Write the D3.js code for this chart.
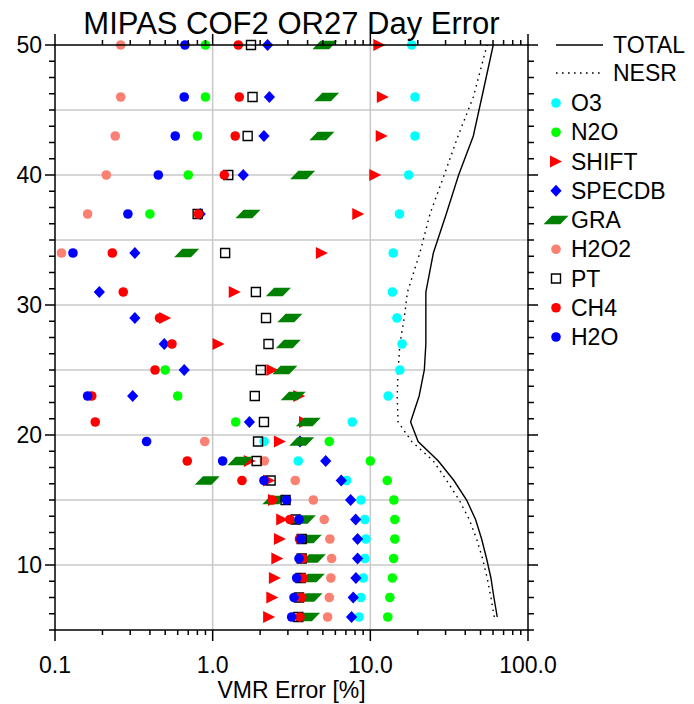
<!DOCTYPE html>
<html>
<head>
<meta charset="utf-8">
<script src="https://cdn.jsdelivr.net/npm/d3@7"></script>
<style>
html,body{margin:0;padding:0;background:#fff;}
svg{display:block;font-family:"Liberation Sans",Arial,Helvetica,sans-serif;}
</style>
</head>
<body>
<svg id="chart" width="694" height="704"></svg>
<script>
// ---------------- data ----------------
const altitudes = [6, 7.5, 9, 10.5, 12, 13.5, 15, 16.5, 18, 19.5, 21, 23, 25, 27, 29, 31, 34, 37, 40, 43, 46, 50];

const totalErr = [63.8, 60.8, 58.2, 54.6, 50.8, 46.5, 40.8, 33.9, 27.0, 20.1, 18.0, 20.4, 22.0, 22.5, 22.5, 22.5, 25.1, 30.3, 36.3, 45.0, 51.0, 60.2];
const nesrErr  = [61.1, 58.2, 55.1, 51.5, 47.2, 42.4, 36.6, 30.5, 25.1, 18.3, 15.0, 14.8, 15.0, 15.4, 16.4, 17.2, 20.6, 23.9, 29.4, 36.0, 45.0, 55.0];

const o3     = [8.47, 8.72, 9.02, 9.24, 9.38, 9.24, 8.72, 7.07, 3.49, 2.12, 7.68, 12.98, 15.4, 15.9, 14.75, 13.8, 13.97, 15.3, 17.5, 19.2, 19.2, 18.3];
const n2o    = [12.9, 13.3, 13.8, 14.05, 14.3, 14.3, 14.1, 12.8, 10.0, 5.49, 1.40, 0.60, 0.50, null, null, null, null, 0.40, 0.70, 0.80, 0.90, 0.90];
const shift  = [2.28, 2.39, 2.48, 2.57, 2.67, 2.76, 2.45, 2.28, 1.72, 2.67, 3.85, 3.54, 2.39, 1.09, 0.50, 1.38, 4.93, 8.38, 10.74, 11.8, 12.0, 11.4];
const specdb = [7.6, 7.79, 8.1, 8.3, 8.3, 8.07, 7.5, 6.54, 5.21, 3.58, 1.71, 0.311, 0.66, 0.493, 0.321, 0.191, 0.321, 0.834, 1.563, 2.115, 2.29, 2.23];
const gra    = [4.0, 4.14, 4.28, 4.35, 4.1, 3.76, 2.48, 0.924, 1.49, 3.67, 4.04, 3.24, 2.87, 3.02, 3.09, 2.61, 0.684, 1.674, 3.72, 4.93, 5.28, 5.15];
const h2o2   = [5.36, 5.49, 5.62, 5.68, 5.54, 5.1, 4.35, 3.34, 2.125, 0.89, null, null, null, null, null, null, 0.110, 0.161, 0.2115, 0.241, 0.261, 0.261];
const pt     = [3.49, 3.53, 3.61, 3.67, 3.67, 3.36, 2.90, 2.33, 1.90, 1.94, 2.115, 1.85, 2.02, 2.26, 2.18, 1.88, 1.20, 0.803, 1.256, 1.667, 1.79, 1.75];
const ch4    = [3.58, 3.67, 3.76, 3.76, 3.55, 3.09, 2.39, 1.534, 0.69, null, 0.180, 0.171, 0.431, 0.552, 0.46, 0.271, 0.231, 0.811, 1.185, 1.39, 1.475, 1.454];
const h2o    = [3.17, 3.28, 3.41, 3.53, 3.63, 3.53, 2.94, 2.115, 1.157, 0.381, null, 0.161, null, null, null, null, 0.130, 0.290, 0.452, 0.579, 0.66, 0.667];

const seriesNames = ["O3", "N2O", "SHIFT", "SPECDB", "GRA", "H2O2", "PT", "CH4", "H2O"];
const seriesValues = [o3, n2o, shift, specdb, gra, h2o2, pt, ch4, h2o];
const seriesShapes = ["circle", "circle", "triangle", "diamond", "para", "circle", "square", "circle", "circle"];
const seriesColors = ["#00ffff", "#00ff00", "#ff0000", "#0000ff", "#008000", "#fa8072", "#000000", "#ff0000", "#0000ff"];

const xTickValues = [0.1, 1, 10, 100];
const xTickLabels = ["0.1", "1.0", "10.0", "100.0"];
const yTickValues = [10, 20, 30, 40, 50];

// ---------------- layout ----------------
const L = 55, R = 528, T = 45, B = 630;
const svg = d3.select("#chart");
const x = d3.scaleLog().domain([0.1, 100]).range([L, R]);
const y = d3.scaleLinear().domain([5, 50]).range([B, T]);

// grid
const grid = svg.append("g").attr("stroke", "#c8c8c8").attr("stroke-width", 1.5);
[1, 10].forEach(v => grid.append("line").attr("x1", x(v)).attr("x2", x(v)).attr("y1", T).attr("y2", B));
d3.range(10, 50, 5).forEach(v => grid.append("line").attr("x1", L).attr("x2", R).attr("y1", y(v)).attr("y2", y(v)));

// lines
const lineGen = d3.line().x(d => x(d[0])).y(d => y(d[1]));
svg.append("path").datum(altitudes.map((a, i) => [nesrErr[i], a]))
  .attr("d", lineGen).attr("fill", "none").attr("stroke", "#000").attr("stroke-width", 1.4)
  .attr("stroke-dasharray", "1.6 4.4");
svg.append("path").datum(altitudes.map((a, i) => [totalErr[i], a]))
  .attr("d", lineGen).attr("fill", "none").attr("stroke", "#000").attr("stroke-width", 1.4);

// marker shapes
function shapePath(s) {
  switch (s) {
    case "circle": return d3.symbol().type(d3.symbolCircle).size(Math.PI * 4.8 * 4.8)();
    case "square": return "M-4.5,-4.5H4.5V4.5H-4.5Z";
    case "diamond": return "M0,-6L5.6,0L0,6L-5.6,0Z";
    case "triangle": return "M-6,-6L6,0L-6,6Z";
    case "para": return "M-12.5,4.3L4.3,4.3L12.5,-4.3L-4.3,-4.3Z";
  }
}
function drawMarker(g, s, color, cx, cy) {
  const p = g.append("path").attr("d", shapePath(s)).attr("transform", `translate(${cx},${cy})`);
  if (s === "square") p.attr("fill", "none").attr("stroke", color).attr("stroke-width", 1.4);
  else p.attr("fill", color);
}

const marks = svg.append("g");
seriesValues.forEach((vals, k) => {
  vals.forEach((v, i) => {
    if (v == null) return;
    drawMarker(marks, seriesShapes[k], seriesColors[k], x(v), y(altitudes[i]));
  });
});

// axes frame
const ax = svg.append("g").attr("stroke", "#000").attr("stroke-width", 1.5);
ax.append("rect").attr("x", L).attr("y", T).attr("width", R - L).attr("height", B - T).attr("fill", "none");

// x ticks (log minor)
const xMinor = [];
[0.1, 1, 10].forEach(dec => { for (let m = 2; m <= 9; m++) xMinor.push(dec * m); });
xMinor.forEach(v => {
  ax.append("line").attr("x1", x(v)).attr("x2", x(v)).attr("y1", B).attr("y2", B + 5);
  ax.append("line").attr("x1", x(v)).attr("x2", x(v)).attr("y1", T).attr("y2", T - 5);
});
xTickValues.forEach(v => {
  ax.append("line").attr("x1", x(v)).attr("x2", x(v)).attr("y1", B).attr("y2", B + 11);
  ax.append("line").attr("x1", x(v)).attr("x2", x(v)).attr("y1", T).attr("y2", T - 11);
});
// y ticks
d3.range(5, 50.01, 1.25).forEach(v => {
  const major = Math.abs(v % 10) < 1e-6;
  const len = major ? 10 : 6;
  ax.append("line").attr("x1", L).attr("x2", L - len).attr("y1", y(v)).attr("y2", y(v));
  ax.append("line").attr("x1", R).attr("x2", R + len).attr("y1", y(v)).attr("y2", y(v));
});

// tick labels
const txt = svg.append("g").attr("fill", "#000");
xTickValues.forEach((v, i) => {
  txt.append("text").attr("x", x(v)).attr("y", 673).attr("text-anchor", "middle")
    .attr("font-size", 23).text(xTickLabels[i]);
});
yTickValues.forEach(v => {
  txt.append("text").attr("x", 42).attr("y", y(v)).attr("dy", "0.35em").attr("text-anchor", "end")
    .attr("font-size", 23).text(String(v));
});
txt.append("text").attr("x", (L + R) / 2).attr("y", 698).attr("text-anchor", "middle")
  .attr("font-size", 23).text("VMR Error [%]");
txt.append("text").attr("x", (L + R) / 2).attr("y", 34).attr("text-anchor", "middle")
  .attr("font-size", 31).text("MIPAS COF2 OR27 Day Error");

// legend
const lg = svg.append("g");
lg.append("line").attr("x1", 556).attr("x2", 603).attr("y1", 45).attr("y2", 45)
  .attr("stroke", "#000").attr("stroke-width", 1.4);
lg.append("text").attr("x", 613).attr("y", 45).attr("dy", "0.35em").attr("font-size", 23).text("TOTAL");
lg.append("line").attr("x1", 556).attr("x2", 603).attr("y1", 73).attr("y2", 73)
  .attr("stroke", "#000").attr("stroke-width", 1.4).attr("stroke-dasharray", "1.6 4.4");
lg.append("text").attr("x", 613).attr("y", 73).attr("dy", "0.35em").attr("font-size", 23).text("NESR");
seriesNames.forEach((name, k) => {
  const yy = 103 + k * 29.25;
  drawMarker(lg, seriesShapes[k], seriesColors[k], 556, yy);
  lg.append("text").attr("x", 571).attr("y", yy).attr("dy", "0.35em").attr("font-size", 23).text(name);
});
</script>
</body>
</html>
